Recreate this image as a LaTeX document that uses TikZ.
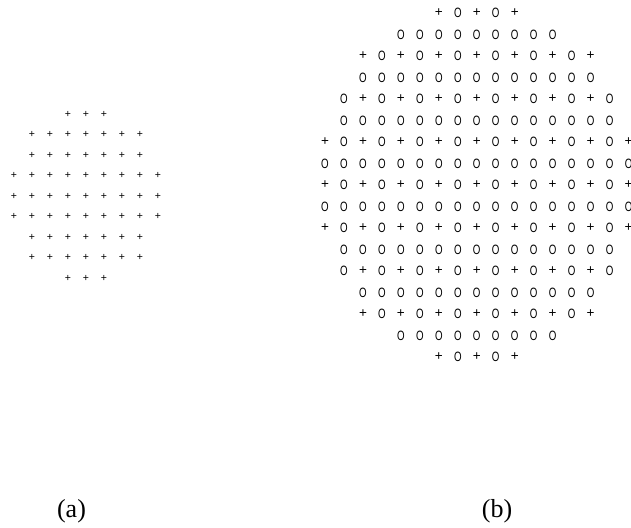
\documentclass[tikz,border=0pt]{standalone}
\usepackage{fontspec}
\setmainfont{Liberation Serif}
\newfontfamily\markfont{Liberation Sans}

\begin{document}
\begin{tikzpicture}[x=1pt,y=-1pt,
    smallmark/.style={inner sep=0pt,font=\markfont\fontsize{10.5}{11}\selectfont},
    bigmark/.style={inner sep=0pt,font=\markfont\fontsize{13.5}{14}\selectfont},
    caption/.style={inner sep=0pt,font=\fontsize{26}{28}\selectfont}]
    \useasboundingbox (0,0) rectangle (631,527);

    % Left lattice: plus signs only
    \foreach \r/\a/\b in {1/4/6,2/2/8,3/2/8,4/1/9,5/1/9,6/1/9,7/2/8,8/2/8,9/4/6} {
        \foreach \c in {\a,...,\b} {
            \node[smallmark] (l-\r-\c) at ({14+18*(\c-1)},{114+20.5*(\r-1)}) {+};
        }
    }

    % Right lattice: plus on odd row and odd column, O elsewhere
    \foreach \r/\a/\b in {1/7/11,2/5/13,3/3/15,4/3/15,5/2/16,6/2/16,7/1/17,8/1/17,9/1/17,
                          10/1/17,11/1/17,12/2/16,13/2/16,14/3/15,15/3/15,16/5/13,17/7/11} {
        \foreach \c in {\a,...,\b} {
            \pgfmathtruncatemacro\isplus{mod(\r,2)*mod(\c,2)}
            \ifnum\isplus=1
                \node[bigmark] (r-\r-\c) at ({325+18.97*(\c-1)},{13+21.5*(\r-1)}) {+};
            \else
                \node[bigmark] (r-\r-\c) at ({325+18.97*(\c-1)},{13+21.5*(\r-1)}) {\scalebox{0.72}[1]{O}};
            \fi
        }
    }

    % Captions
    \node[caption] (capa) at (71.5,511) {(a)};
    \node[caption] (capb) at (497,511) {(b)};
\end{tikzpicture}
\end{document}
